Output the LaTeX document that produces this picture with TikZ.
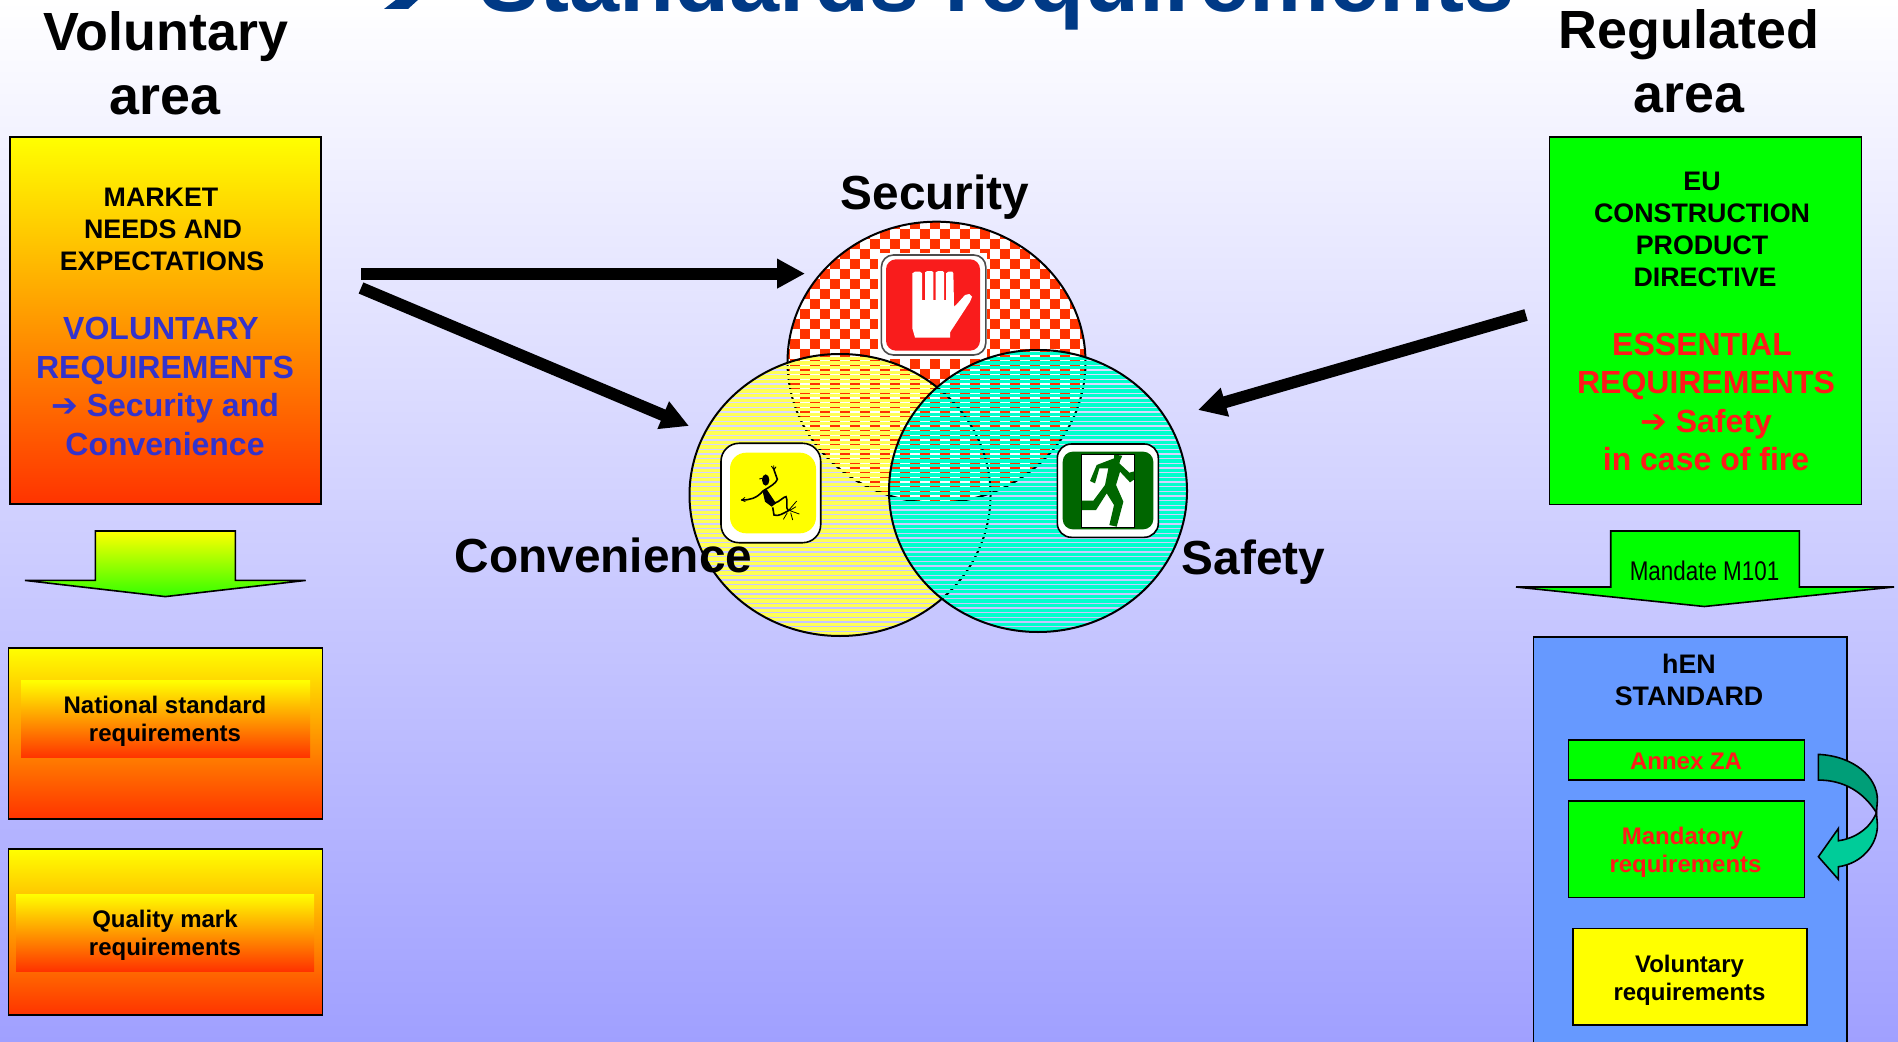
\documentclass[tikz,border=0pt]{standalone}
\usepackage{fontspec}
\setmainfont{Liberation Sans}
\newfontfamily\djv{DejaVu Sans}
\usetikzlibrary{arrows.meta}
\definecolor{yellow}{HTML}{FFFF00}
\definecolor{orng}{HTML}{FF3300}
\definecolor{lime}{HTML}{00FF00}
\definecolor{hen}{HTML}{6699FF}
\definecolor{bluetxt}{HTML}{3333CC}
\definecolor{redtxt}{HTML}{FF1A1A}
\definecolor{titleblue}{HTML}{003A86}
\definecolor{stripey}{HTML}{FFFF55}
\definecolor{stripec}{HTML}{00FFCC}
\definecolor{sred}{HTML}{F91C1C}
\definecolor{exitg}{HTML}{006600}
\definecolor{bgbot}{HTML}{A0A0FF}
\definecolor{arrowg}{HTML}{33FF00}
\definecolor{curveback}{HTML}{009E78}
\definecolor{curvefront}{HTML}{00CC99}
\newcommand\pxbox[7]{\pgfmathsetmacro\bw{(#5-#3)*0.5}\pgfmathsetmacro\bh{(#6-#4)*0.5}\node[#2,minimum width=\bw pt,minimum height=\bh pt,inner sep=0pt,outer sep=0pt] (#1) at ({(#3+#5)/2},{(#4+#6)/2}) {#7};}
\newcommand\fsz[2]{\fontsize{#1}{#2}\selectfont}
\tikzset{
  lbl/.style={inner sep=0pt,align=center,font=\bfseries},
  hd/.style={lbl,font=\bfseries\fsz{26.9}{32}},
  sm/.style={lbl,font=\bfseries\fsz{13.4}{16}},
  med/.style={lbl,font=\bfseries\fsz{16}{19.2}},
  smaller/.style={lbl,font=\bfseries\fsz{12}{14}},
  grad/.style={draw=black,line width=.8pt,top color=yellow,bottom color=orng},
  gradin/.style={top color=yellow,bottom color=orng},
  flatg/.style={draw=black,line width=.8pt,fill=lime},
  flaty/.style={draw=black,line width=.8pt,fill=yellow},
  bigarrow/.style={line width=6pt,-{Triangle[length=14pt,width=14pt]}},
  circ/.style={draw=black,line width=1pt},
  iconframe/.style={draw=black,line width=.8pt,fill=white}
}
\begin{document}
\begin{tikzpicture}[x=0.5pt,y=-0.5pt]
\useasboundingbox (0,0) rectangle (1898,1042);
\shade[top color=white,bottom color=bgbot] (0,0) rectangle (1898,1042);
% title
\node[lbl,anchor=base west,text=titleblue,font=\bfseries\fsz{45}{50}] (title) at (479,12) {Standards requirements};
\fill[titleblue] (397,-1) -- (419,-1) -- (408,9) -- (384,9) -- cycle;
% headings
\node[hd,anchor=base] (volh1) at (166,50.7) {Voluntary};
\node[hd,anchor=base] (volh2) at (165,114.3) {area};
\node[hd,anchor=base] (regh1) at (1689,48.5) {Regulated};
\node[hd,anchor=base] (regh2) at (1689,113) {area};
% left column
\pxbox{leftbox}{grad}{9.7}{137}{320.8}{504}{}
\node[sm] (market) at (163,229.5) {MARKET\hspace*{2pt}\\NEEDS AND\hspace*{-2pt}\\EXPECTATIONS\hspace*{1pt}};
\node[med,text=bluetxt] (volreq) at (165,386.5) {VOLUNTARY\hspace*{4pt}\\REQUIREMENTS\\{\djv\bfseries ➔} Security and\hspace*{4pt}\\Convenience};
\draw[line width=.8pt,top color=yellow,bottom color=arrowg] (95.3,531) -- (235.3,531) -- (235.3,580.4) -- (305.7,580.4) -- (165.3,596.6) -- (25,580.4) -- (95.3,580.4) -- cycle;
\pxbox{natbox}{grad}{8.5}{648}{322.3}{819}{}
\pxbox{natin}{gradin}{21}{680.7}{310}{757.8}{}
\node[smaller] (nat) at (165,721.5) {National standard\\requirements};
\pxbox{qualbox}{grad}{8.5}{849}{322.3}{1015}{}
\pxbox{qualin}{gradin}{16}{894}{314}{971}{}
\node[smaller] (qual) at (165,935.5) {Quality mark\\requirements};
% right column
\pxbox{rightbox}{flatg}{1549.5}{137}{1861.5}{504.5}{}
\node[sm] (eu) at (1702,229.5) {EU\\CONSTRUCTION\\PRODUCT\\\hspace*{3pt}DIRECTIVE};
\node[med,text=redtxt] (ess) at (1706,402) {ESSENTIAL\hspace*{4pt}\\REQUIREMENTS\\{\djv\bfseries ➔} Safety\hspace*{4pt}\\in case of fire};
\draw[line width=.8pt,fill=lime] (1610.7,531) -- (1799.3,531) -- (1799.3,587) -- (1894,587) -- (1704.3,606.5) -- (1516,587) -- (1610.7,587) -- cycle;
\node[inner sep=0pt,anchor=base,font=\fsz{13.5}{16},xscale=.83] (mandate) at (1704.5,580) {Mandate M101};
\pxbox{henbox}{draw=black,line width=.8pt,fill=hen}{1533.3}{637}{1846.7}{1060}{}
\node[sm] (hen) at (1689,680) {hEN\\STANDARD};
\pxbox{annexbox}{flatg}{1568.3}{739.7}{1804.3}{780.2}{}
\node[smaller,text=redtxt,anchor=base] (annex) at (1686,769.5) {Annex ZA};
\pxbox{mandbox}{flatg}{1568.3}{800.7}{1804.3}{897.5}{}
\node[smaller,text=redtxt] (mand) at (1685.5,852.5) {Mandatory\hspace*{3pt}\\requirements};
\pxbox{volbox}{flaty}{1572.7}{928.4}{1807}{1025.2}{}
\node[smaller] (vol) at (1689.5,980.5) {Voluntary\\requirements};
% curved arrow
\begin{scope}[shift={(1500,520)},x=0.1667pt,y=-0.1667pt]
\draw[line width=.8pt,fill=curveback] (955,703) .. controls (1060,708) and (1132,770) .. (1132,840) -- (1129,878) .. controls (1090,815) and (1030,780) .. (955,780) -- cycle;
\draw[line width=.8pt,fill=curvefront] (1129,878) .. controls (1110,925) and (1065,955) .. (1015,962) -- (1015,925) -- (955,1010) -- (1015,1078) -- (1015,1040) .. controls (1085,1030) and (1132,975) .. (1132,915) -- cycle;
\end{scope}
% Security circle
\begin{scope}
\clip (936.5,362.2) ellipse [x radius=149,y radius=140.5];
\fill[white] (780,215) rectangle (1095,510);
\foreach \i in {0,...,30} {
  \pgfmathsetmacro\yy{219.5+\i*10+5}
  \pgfmathsetmacro\ph{mod(\i+1,2)*5}
  \draw[orng,line width=5pt,dash pattern=on 5pt off 5pt,dash phase=\ph pt] (780,\yy) -- (1100,\yy);
}
\end{scope}
\draw[circ] (936.5,362.2) ellipse [x radius=149,y radius=140.5];
% stop icon
\fill[white] (878,252.7) rectangle (986.5,359.3);
\draw[black!70,line width=.8pt,rounded corners=6pt] (881.4,255) rectangle (985.8,355);
\fill[sred,rounded corners=5pt] (886,259.3) rectangle (980,350.7);
\begin{scope}[shift={(870,245)},x=0.1667pt,y=-0.1667pt]
\fill[white] (127,85) -- (135,80) -- (150,80) -- (156,85) -- (156,165) -- (165,165) -- (165,82) -- (172,78) -- (185,78) -- (190,82) -- (190,165) -- (197,165) -- (197,82) -- (205,78) -- (218,78) -- (222,82) -- (222,165) -- (228,165) -- (228,85) -- (235,80) -- (247,80) -- (250,85) -- (252,185) -- (258,180) -- (285,150) -- (298,147) -- (306,155) -- (300,170) -- (240,262) -- (240,278) -- (135,278) -- (127,250) -- cycle;
\end{scope}
% Convenience circle
\begin{scope}
\clip (840,495) ellipse [x radius=150.5,y radius=141];
\foreach \i in {0,...,64} {
  \pgfmathsetmacro\yy{349+\i*4.667}
  \draw[stripey,line width=1.8pt] (685,\yy) -- (995,\yy);
}
\end{scope}
\draw[circ] (840,495) ellipse [x radius=150.5,y radius=141];
% Safety circle
\begin{scope}
\clip (1038,491) ellipse [x radius=149,y radius=141];
\foreach \i in {0,...,64} {
  \pgfmathsetmacro\yy{349+\i*4.667}
  \draw[stripec,line width=1.8pt] (885,\yy) -- (1190,\yy);
}
\end{scope}
\draw[circ] (1038,491) ellipse [x radius=149,y radius=141];
% convenience icon
\draw[iconframe,rounded corners=9pt] (721,443.3) rectangle (820.7,542.7);
\fill[yellow,rounded corners=8pt] (730,452.7) rectangle (816,533.3);
\begin{scope}[shift={(700,420)},x=0.1667pt,y=-0.1667pt]
\fill (197,180) ellipse [x radius=11,y radius=17];
\draw[line width=.5pt] (178,177) -- (190,174);
\draw[line width=.8pt,line cap=round] (125,240) .. controls (150,240) and (170,235) .. (190,212) .. controls (210,200) and (228,190) .. (232,178) -- (222,150);
\draw[line width=.4pt] (222,150) -- (214,138) (222,150) -- (221,136) (222,150) -- (228,140) (125,240) -- (135,232) (125,240) -- (136,245);
\fill (188,215) -- (200,208) -- (228,250) -- (215,260) -- (195,245) -- cycle;
\draw[line width=.8pt] (222,250) .. controls (240,245) and (250,230) .. (258,230) .. controls (265,240) and (255,265) .. (265,272) .. controls (250,280) and (235,290) .. (222,285) -- (218,262);
\draw[line width=.4pt] (265,272) -- (290,243) (270,272) -- (298,282) (268,272) -- (288,260) (262,278) -- (250,298) (272,278) -- (278,300);
\end{scope}
% exit icon
\draw[iconframe,rounded corners=7pt] (1057.3,444) rectangle (1158.3,537.3);
\fill[exitg,rounded corners=5pt] (1062.7,451.7) rectangle (1153.3,529.3);
\draw[black,fill=white,line width=.4pt] (1081.7,454) rectangle (1134.3,527.3);
\begin{scope}[shift={(1040,430)},x=0.1667pt,y=-0.1667pt]
\fill[exitg] (222,74) -- (247,77) -- (240,92) -- (238,100) -- (268,128) -- (283,124) -- (283,148) -- (270,157) -- (240,125) -- (228,165) -- (250,215) -- (230,290) -- (208,285) -- (222,225) -- (200,190) -- (168,240) -- (125,240) -- (125,212) -- (160,212) -- (195,165) -- (205,115) -- (178,115) -- (165,160) -- (150,153) -- (170,105) -- (222,85) -- cycle;
\end{scope}
% circle labels
\node[lbl,anchor=base,font=\bfseries\fsz{23.9}{28}] (seclbl) at (935,209.5) {Security};
\node[lbl,anchor=base,font=\bfseries\fsz{23.9}{28}] (conlbl) at (603.4,572.6) {Convenience};
\node[lbl,anchor=base,font=\bfseries\fsz{23.9}{28}] (saflbl) at (1253.5,574.3) {Safety};
% big arrows
\coordinate (a1s) at (361,273.6);
\coordinate (a1e) at (805,273.6);
\coordinate (a2s) at (361,288);
\coordinate (a2e) at (689,426);
\coordinate (a3s) at (1526,315);
\coordinate (a3e) at (1198,410);
\draw[bigarrow] (a1s) -- (a1e);
\draw[bigarrow] (a2s) -- (a2e);
\draw[bigarrow] (a3s) -- (a3e);
\end{tikzpicture}
\end{document}
